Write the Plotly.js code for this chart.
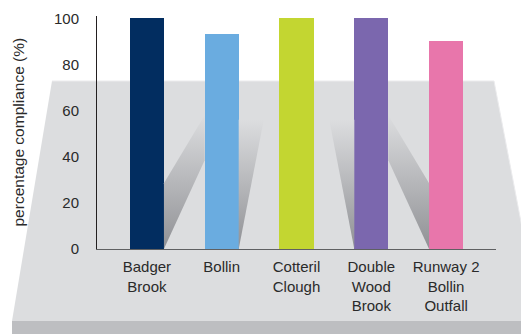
<!DOCTYPE html>
<html>
<head>
<meta charset="utf-8">
<script src="https://cdn.plot.ly/plotly-3.0.1.min.js"></script>
<style>
  html, body { margin: 0; padding: 0; background: #ffffff; }
  #chart { width: 521px; height: 334px; }
</style>
</head>
<body>
<div id="chart"></div>
<script>
// ---- data ----
const categories = ['Badger<br>Brook', 'Bollin', 'Cotteril<br>Clough', 'Double<br>Wood<br>Brook', 'Runway 2<br>Bollin<br>Outfall'];
const compliance = [100, 93, 100, 100, 90];
const barColors = ['#022d60', '#6aace0', '#c3d631', '#7b67ae', '#e876ab'];
const yTicks = [0, 20, 40, 60, 80, 100];

// ---- layout geometry ----
const W = 521, H = 334;
const plotL = 97, plotR = 496, plotT = 16, plotB = 249;
const px = x => (x - plotL) / (plotR - plotL);
const py = y => (plotB - y) / (plotB - plotT);

const xIdx = categories.map((_, i) => i);
const barWidth = 0.455;
const half = barWidth / 2;

// decorative perspective shadows, derived from bar positions
const traces = [];
const mid = (categories.length - 1) / 2;
xIdx.forEach(i => {
  const d = mid - i;            // + : shadow to the right, - : to the left
  if (d === 0) return;
  const s = Math.sign(d);
  const edge = i + s * half;    // bar edge facing the centre
  let xs, ys;
  if (Math.abs(d) >= 2) {
    const far = i + s * (1 - half);
    xs = [edge, far, far, edge, edge];
    ys = [0, 38.5, 58, 28.5, 0];
  } else {
    const far = i + s * (half + 0.335);
    xs = [edge, far, edge, edge];
    ys = [0, 56, 56, 0];
  }
  traces.push({
    type: 'scatter', x: xs, y: ys, mode: 'lines', fill: 'toself',
    line: {width: 0, color: 'rgba(0,0,0,0)'},
    fillgradient: {type: 'vertical', colorscale: [[0, '#909195'], [1, '#dcdddf']]},
    hoverinfo: 'skip', showlegend: false
  });
});

traces.unshift({
  type: 'bar', x: xIdx, y: compliance, width: barWidth,
  marker: {color: barColors, line: {width: 0}},
  hoverinfo: 'x+y', showlegend: false
});

const shapes = [
  { type: 'path', xref: 'paper', yref: 'paper', layer: 'below',
    path: `M ${px(52)} ${py(81)} L ${px(494)} ${py(81)} L ${px(540)} ${py(321)} L ${px(12)} ${py(321)} Z`,
    fillcolor: '#dcdddf', line: {width: 0} },
  { type: 'path', xref: 'paper', yref: 'paper', layer: 'below',
    path: `M ${px(52)} ${py(81)} L ${px(494)} ${py(81)} L ${px(540)} ${py(321)}`,
    fillcolor: 'rgba(0,0,0,0)', line: {width: 1, color: '#ebebed'} },
  { type: 'rect', xref: 'paper', yref: 'paper', layer: 'below',
    x0: px(12), x1: px(540), y0: py(321), y1: py(340),
    fillcolor: '#bdbec1', line: {width: 0} }
];

const font = {family: '"Liberation Sans", Arial, Helvetica, sans-serif', size: 15, color: '#2a2a2a'};

const layout = {
  width: W, height: H,
  margin: {l: plotL, r: W - plotR, t: plotT, b: H - plotB, pad: 0},
  paper_bgcolor: '#ffffff',
  plot_bgcolor: 'rgba(0,0,0,0)',
  font: font,
  bargap: 0,
  xaxis: {
    range: [-0.667, 4.667], tickvals: xIdx, ticktext: categories,
    showgrid: false, zeroline: false, showline: true, linecolor: '#5f6062', linewidth: 1,
    ticks: '', ticklabelstandoff: 4, tickfont: font, fixedrange: true
  },
  yaxis: {
    range: [0, 101], tickvals: yTicks,
    showgrid: false, zeroline: false, showline: true, linecolor: '#231f20', linewidth: 1,
    ticks: '', ticklabelstandoff: 14, tickfont: font, fixedrange: true
  },
  shapes: shapes,
  annotations: [{
    text: 'percentage compliance (%)', xref: 'paper', yref: 'paper',
    x: px(18), y: 0.5, xanchor: 'center', yanchor: 'middle', textangle: -90,
    showarrow: false, font: {family: font.family, size: 15.5, color: '#2a2a2a'}
  }]
};

Plotly.newPlot('chart', traces, layout, {displayModeBar: false, staticPlot: true});
</script>
</body>
</html>
